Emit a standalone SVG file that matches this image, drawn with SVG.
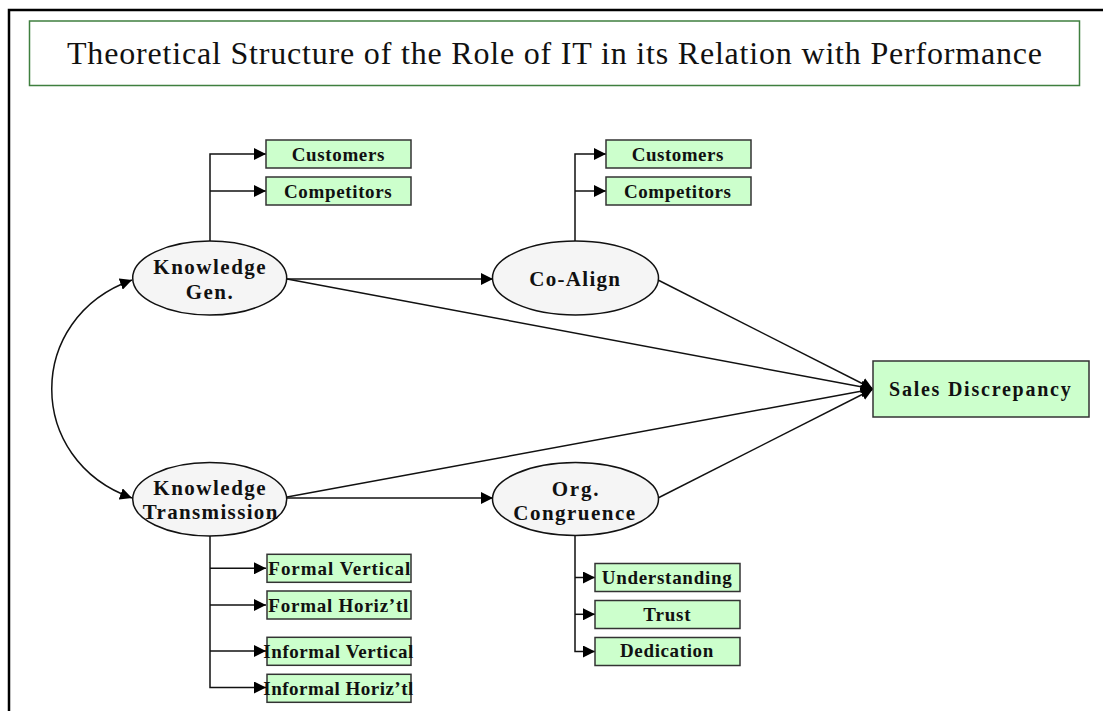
<svg xmlns="http://www.w3.org/2000/svg" width="1103" height="711" viewBox="0 0 1103 711">
<style>
.frame{fill:none;stroke:#000;stroke-width:2.5}
.tbox{fill:#fff;stroke:#3f7f3f;stroke-width:1.5}
.title{font-family:"Liberation Serif","Times New Roman",serif;font-size:32px;fill:#111}
.ell{fill:#f5f5f5;stroke:#111;stroke-width:1.5}
.box{fill:#ccffcc;stroke:#333;stroke-width:1.5}
.t{font-family:"Liberation Serif","Times New Roman",serif;font-weight:bold;fill:#111}
.bt{font-size:19px}
.et{font-size:21px}
.st{font-size:20px}
.c{fill:none;stroke:#111;stroke-width:1.5}
.a{marker-end:url(#ah)}
</style>
<defs>
<marker id="ah" markerUnits="userSpaceOnUse" viewBox="0 0 12 12" refX="12" refY="6" markerWidth="12" markerHeight="12" orient="auto">
<path d="M0,0 L12,6 L0,12 z" fill="#000"/>
</marker>
<marker id="ah2" markerUnits="userSpaceOnUse" viewBox="0 0 12 12" refX="12" refY="6" markerWidth="12" markerHeight="12" orient="auto-start-reverse">
<path d="M0,0 L12,6 L0,12 z" fill="#000"/>
</marker>
</defs>
<rect width="1103" height="711" fill="#fff"/>
<path class="frame" d="M9,711 V10 H1103"/>
<g id="title">
<rect class="tbox" x="29.5" y="21" width="1050" height="64.5"/>
<text class="title" x="67" y="64.3" textLength="975" lengthAdjust="spacing">Theoretical Structure of the Role of IT in its Relation with Performance</text>
</g>
<g id="connectors">
<path class="c a" d="M210,241 V154 H266"/>
<path class="c a" d="M210,191 H266"/>
<path class="c a" d="M575,241 V154 H606"/>
<path class="c a" d="M575,191 H606"/>
<path class="c a" d="M210,536 V687.5 H266"/>
<path class="c a" d="M210,568.3 H266"/>
<path class="c a" d="M210,605 H266"/>
<path class="c a" d="M210,651 H266"/>
<path class="c a" d="M575,535 V651.5 H595"/>
<path class="c a" d="M575,577.5 H595"/>
<path class="c a" d="M575,614.3 H595"/>
<path class="c a" d="M287,279 H493"/>
<path class="c a" d="M287,498 H493"/>
<path class="c a" d="M287,279 L873,389"/>
<path class="c a" d="M658,280 L873,389"/>
<path class="c a" d="M287,497 L873,389"/>
<path class="c a" d="M658,498 L873,389"/>
<path class="c" d="M132,280 C25,318 25,460 132,498" marker-start="url(#ah2)" marker-end="url(#ah2)"/>
</g>
<g id="kg">
<ellipse class="ell" cx="209.7" cy="278" rx="77" ry="37"/>
<text class="t et" x="153.3" y="274.3" textLength="112.4" lengthAdjust="spacing">Knowledge</text>
<text class="t et" x="185.7" y="299.3" textLength="47" lengthAdjust="spacing">Gen.</text>
</g>
<g id="kt">
<ellipse class="ell" cx="209.7" cy="499.3" rx="77" ry="36.7"/>
<text class="t et" x="153.3" y="495" textLength="112.4" lengthAdjust="spacing">Knowledge</text>
<text class="t et" x="142.7" y="519.3" textLength="134.7" lengthAdjust="spacing">Transmission</text>
</g>
<g id="coalign">
<ellipse class="ell" cx="575.5" cy="278" rx="83" ry="37"/>
<text class="t et" x="529.3" y="286" textLength="90.7" lengthAdjust="spacing">Co-Align</text>
</g>
<g id="org">
<ellipse class="ell" cx="575.5" cy="499" rx="83" ry="36.5"/>
<text class="t et" x="551.7" y="496" textLength="46.7" lengthAdjust="spacing">Org.</text>
<text class="t et" x="513.3" y="520" textLength="121.7" lengthAdjust="spacing">Congruence</text>
</g>
<g id="sales">
<rect class="box" x="873" y="361" width="216" height="56"/>
<text class="t st" x="889" y="396" textLength="181.7" lengthAdjust="spacing">Sales Discrepancy</text>
</g>
<g id="kg-customers">
<rect class="box" x="266" y="140" width="145" height="28"/>
<text class="t bt" x="291.7" y="161" textLength="92.7" lengthAdjust="spacing">Customers</text>
</g>
<g id="kg-competitors">
<rect class="box" x="266" y="177" width="145" height="28"/>
<text class="t bt" x="284" y="197.7" textLength="107.7" lengthAdjust="spacing">Competitors</text>
</g>
<g id="ca-customers">
<rect class="box" x="606" y="140" width="145" height="28"/>
<text class="t bt" x="631.7" y="161" textLength="91.7" lengthAdjust="spacing">Customers</text>
</g>
<g id="ca-competitors">
<rect class="box" x="606" y="177" width="145" height="28"/>
<text class="t bt" x="624" y="197.7" textLength="107" lengthAdjust="spacing">Competitors</text>
</g>
<g id="formal-vertical">
<rect class="box" x="267" y="554.3" width="144" height="28"/>
<text class="t bt" x="268.3" y="575" textLength="142" lengthAdjust="spacing">Formal Vertical</text>
</g>
<g id="formal-horiz">
<rect class="box" x="267" y="591" width="144" height="28"/>
<text class="t bt" x="268.3" y="611.7" textLength="140" lengthAdjust="spacing">Formal Horiz’tl</text>
</g>
<g id="informal-vertical">
<rect class="box" x="267" y="637.3" width="144" height="28"/>
<text class="t bt" x="263.3" y="658.3" textLength="150" lengthAdjust="spacing">Informal Vertical</text>
</g>
<g id="informal-horiz">
<rect class="box" x="267" y="674.3" width="144" height="28"/>
<text class="t bt" x="263.3" y="695" textLength="150" lengthAdjust="spacing">Informal Horiz’tl</text>
</g>
<g id="understanding">
<rect class="box" x="595" y="563.5" width="145" height="28"/>
<text class="t bt" x="601.7" y="584.3" textLength="130" lengthAdjust="spacing">Understanding</text>
</g>
<g id="trust">
<rect class="box" x="595" y="600.5" width="145" height="28"/>
<text class="t bt" x="643.3" y="621" textLength="47.3" lengthAdjust="spacing">Trust</text>
</g>
<g id="dedication">
<rect class="box" x="595" y="637.5" width="145" height="28"/>
<text class="t bt" x="620" y="657.3" textLength="93.3" lengthAdjust="spacing">Dedication</text>
</g>
</svg>
